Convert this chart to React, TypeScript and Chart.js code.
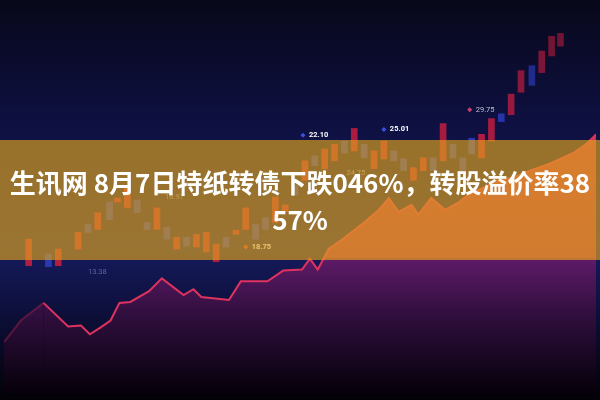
import React, { useEffect, useRef, useState } from "react";
import { Chart, registerables } from "chart.js";

Chart.register(...registerables);

// Candles: time position, open and close (body only)
const candleX = [25, 45, 55, 75, 85, 95, 107, 115, 125, 135, 145, 155, 165, 175, 185, 195, 205, 215, 225, 235, 245, 255, 265, 275, 285, 295, 305, 315, 325, 335, 345, 355, 365, 375, 385, 395, 405, 415, 425, 435, 445, 455, 465, 474, 484, 494, 504, 514, 524, 535, 545, 555, 564];
const candleOpen = [33.25, 36.25, 33.25, 37.5, 43.75, 42.5, 49.5, 49.5, 48, 50, 44.25, 42.5, 43, 37.5, 40.5, 38, 36.75, 34.25, 40.5, 41.25, 42.5, 43.75, 45.5, 44.25, 47, 53.75, 55, 61.25, 58, 60, 65, 62.5, 64.25, 58, 60.5, 62.5, 60.5, 55, 57.5, 60.75, 60, 64.25, 60.75, 65.75, 60.75, 65, 72, 71.75, 77.5, 84.25, 82.5, 86.75, 89.25];
const candleClose = [40, 33, 37.5, 41.75, 41.75, 46.75, 45, 50.5, 53, 46.75, 42.5, 48, 40, 40.5, 38.25, 41.25, 41.75, 38.75, 38, 42.25, 48, 40, 42.5, 50.75, 48.75, 51.25, 60, 58.75, 63, 64.25, 62, 68.25, 60.75, 62.5, 65, 60, 57.5, 58.25, 60.75, 57.5, 69.5, 60.75, 57.5, 61.75, 66.75, 70.75, 70, 77, 83, 79.25, 88, 91.75, 92.5];

// Trend line
const lineX = [0, 17, 40, 65, 78, 87, 98, 108, 117, 128, 147, 160, 182, 192, 200, 228, 240, 267, 283, 302, 310, 318, 329, 343, 365, 380, 390, 400, 413, 420, 433, 447, 460, 470, 487, 500, 517, 533, 553, 577, 590, 600];
const lineY = [13.75, 19.25, 23.75, 17.75, 18, 15.75, 17.5, 19.25, 23.75, 24, 26.75, 30, 25.75, 27.25, 25.25, 24.5, 29.25, 29.25, 32, 32.25, 35, 32.25, 37.5, 40, 44.25, 47.5, 50.5, 47, 48.75, 46.25, 50.5, 47.5, 49.25, 51.25, 53.25, 55, 55.75, 57.5, 59.25, 62, 64.25, 66.75];

// Price tags
const tagText = ["22.10", "25.01", "29.75", "18.75", "18.97", "24.75", "13.38"];
const tagX = [303, 385, 472, 245, 157, 341, 79];
const tagY = [66.5, 68, 73, 38, 50.75, 57, 31.75];
const tagMarker = ["#3b4fe0", "#3b4fe0", "#c84068", "#e0302c", "", "", ""];
const tagColor = ["#ffffff", "#ffffff", "rgba(220,222,240,0.85)", "#ffffff", "rgba(255,255,255,0.5)", "rgba(255,255,255,0.55)", "rgba(150,160,225,0.55)"];
const tagBold = [true, true, false, true, false, false, false];

const titleLine1 = "生讯网 8月7日特纸转债下跌046%，转股溢价率38";
const titleLine2 = "57%";

const bgPlugin = {
  id: "bgGrad",
  beforeDraw(chart: any) {
    const { ctx, width, height } = chart;
    const g = ctx.createLinearGradient(0, 0, 0, height);
    g.addColorStop(0, "#08081a");
    g.addColorStop(0.3, "#0e1040");
    g.addColorStop(0.62, "#161b5e");
    g.addColorStop(0.8, "#0c0e36");
    g.addColorStop(1, "#020206");
    ctx.save();
    ctx.fillStyle = g;
    ctx.fillRect(0, 0, width, height);
    ctx.restore();
  },
};

function candleColor(i: number) {
  const up = candleClose[i] >= candleOpen[i];
  const top = Math.max(candleOpen[i], candleClose[i]);
  const a = top > 66 ? Math.max(0.5, 0.85 - (top - 66) / 80) : 0.85;
  return up ? `rgba(206,30,64,${a})` : `rgba(46,62,196,${a})`;
}

export default function App() {
  const ref = useRef<HTMLCanvasElement | null>(null);
  const [tags, setTags] = useState<{ left: number; top: number }[]>([]);

  useEffect(() => {
    if (!ref.current) return;
    const chart = new Chart(ref.current, {
      type: "bar",
      data: {
        datasets: [
          {
            type: "bar",
            data: candleX.map((x, i) => ({ x, y: [candleOpen[i], candleClose[i]] })) as any,
            backgroundColor: (c: any) => candleColor(c.dataIndex),
            barThickness: 6,
            borderSkipped: false,
            order: 1,
          } as any,
          {
            type: "line",
            data: lineX.map((x, i) => ({ x, y: lineY[i] })),
            borderColor: "#e0325e",
            borderWidth: 2,
            pointRadius: 0,
            tension: 0,
            fill: "start",
            segment: {
              borderColor: (s: any) => (s.p0DataIndex < 2 ? "rgba(200,40,80,0.35)" : undefined),
            },
            backgroundColor: (c: any) => {
              const ch = c.chart;
              const a = ch.chartArea;
              if (!a) return "rgba(90,25,100,0.8)";
              const g = ch.ctx.createLinearGradient(0, a.top, 0, a.bottom);
              g.addColorStop(0.3, "rgb(205,55,80)");
              g.addColorStop(0.645, "rgb(175,48,84)");
              g.addColorStop(0.655, "rgb(92,26,102)");
              g.addColorStop(0.8, "rgb(46,14,60)");
              g.addColorStop(1, "rgb(4,0,8)");
              return g;
            },
            order: 2,
          } as any,
          {
            type: "line",
            data: tagX.map((x, i) => ({ x, y: tagY[i] })),
            showLine: false,
            pointStyle: "rectRot",
            pointRadius: tagMarker.map((m) => (m ? 2.5 : 0)),
            pointBackgroundColor: tagMarker.map((m) => m || "transparent"),
            pointBorderWidth: 0,
            order: 0,
          } as any,
        ],
      },
      options: {
        responsive: true,
        maintainAspectRatio: false,
        animation: false,
        layout: { padding: 0 },
        plugins: { legend: { display: false }, tooltip: { enabled: false } },
        scales: {
          x: { type: "linear", min: 0, max: 600, offset: false, display: false },
          y: { type: "linear", min: 0, max: 100, display: false },
        },
      },
      plugins: [bgPlugin],
    });
    const xs = chart.scales.x;
    const ys = chart.scales.y;
    setTags(tagX.map((x, i) => ({ left: xs.getPixelForValue(x) + 6, top: ys.getPixelForValue(tagY[i]) - 5 })));
    return () => chart.destroy();
  }, []);

  return (
    <div style={{ position: "fixed", left: 0, top: 0, width: 600, height: 400, overflow: "hidden", background: "#08081a" }}>
      <canvas ref={ref} style={{ position: "absolute", left: 0, top: 0 }} />
      {tags.map((p, i) => (
        <span
          key={i}
          style={{
            position: "absolute",
            left: p.left,
            top: p.top,
            lineHeight: "10px",
            fontSize: 7.5,
            fontFamily: "Roboto, 'DejaVu Sans', sans-serif",
            fontWeight: tagBold[i] ? 700 : 400,
            color: tagColor[i],
            whiteSpace: "nowrap",
          }}
        >
          {tagText[i]}
        </span>
      ))}
      <div
        style={{
          position: "absolute",
          left: 0,
          top: 140,
          width: 600,
          height: 120,
          background: "rgba(226,164,28,0.65)",
          display: "flex",
          flexDirection: "column",
          justifyContent: "center",
          alignItems: "center",
          color: "#ffffff",
          fontFamily: "'Noto Sans CJK SC', 'Noto Sans', sans-serif",
          fontWeight: 700,
          fontSize: 26,
          lineHeight: "37px",
        }}
      >
        <div style={{ whiteSpace: "nowrap" }}>{titleLine1}</div>
        <div style={{ whiteSpace: "nowrap" }}>{titleLine2}</div>
      </div>
    </div>
  );
}
